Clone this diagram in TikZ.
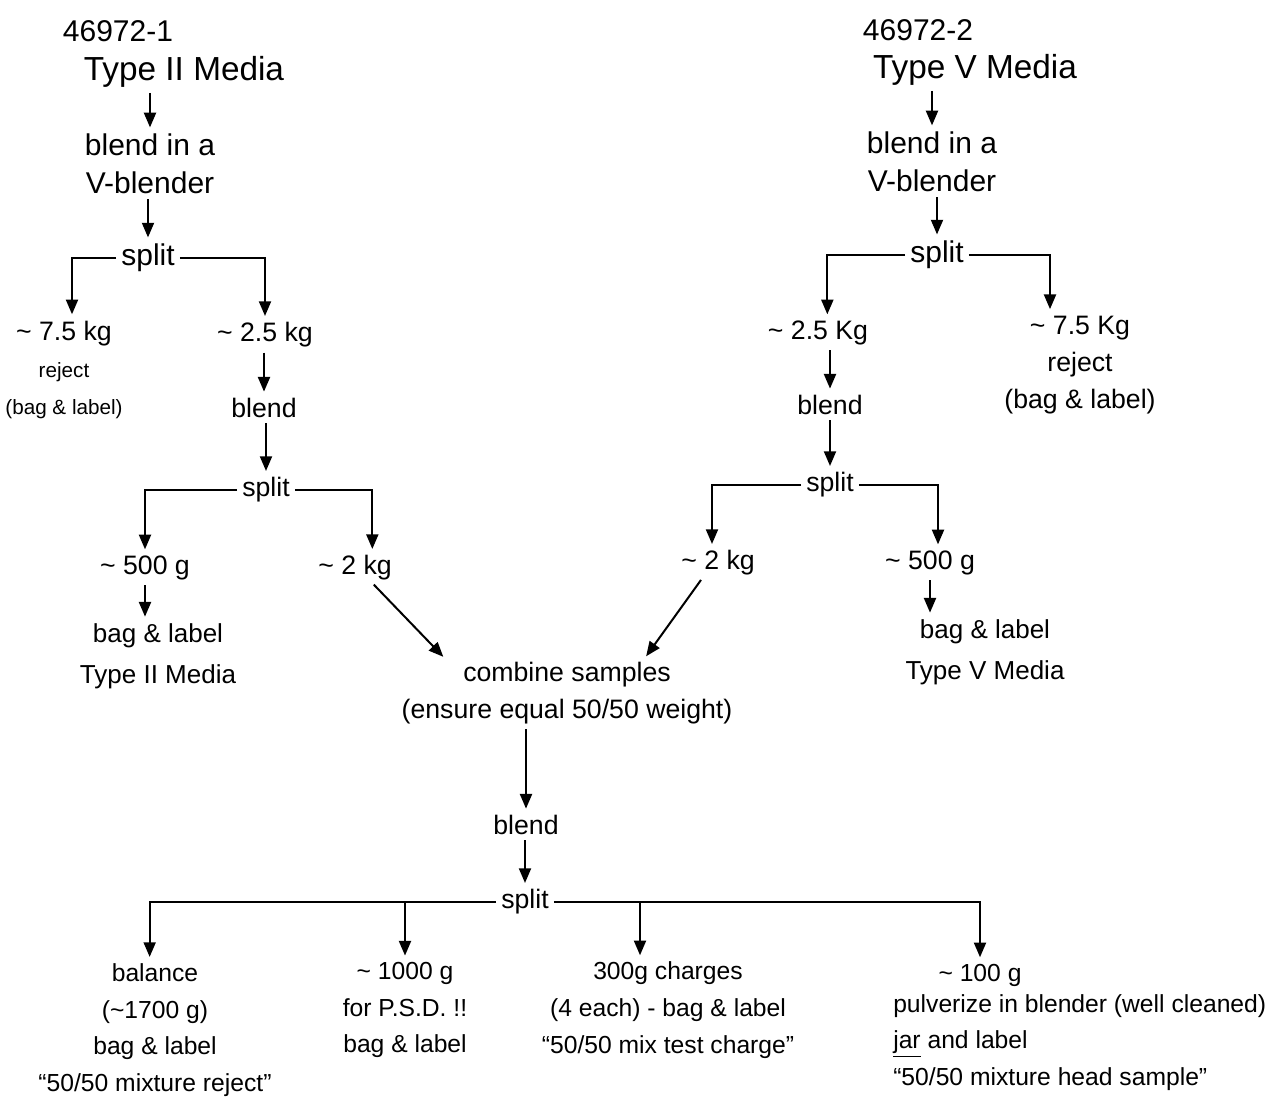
\documentclass[tikz,border=0pt]{standalone}
\usepackage{fontspec}
\setmainfont{Liberation Sans}
\usepackage{tikz}
\usetikzlibrary{arrows.meta}

\newcommand{\tld}{\textasciitilde}
\newcommand{\tinyline}[1]{{\fontsize{15.5}{26}\selectfont #1}}

\begin{document}
\begin{tikzpicture}[x=0.75pt,y=0.75pt,yscale=-1,xscale=1,
    txt/.style={inner sep=0.75pt, align=center, font=\fontsize{20}{28}\selectfont},
    big/.style={txt, font=\fontsize{22.5}{28.5}\selectfont},
    head/.style={txt, font=\fontsize{25}{28.5}\selectfont},
    small/.style={txt, font=\fontsize{18.5}{27.5}\selectfont},
    bagtxt/.style={txt, font=\fontsize{19.5}{31}\selectfont},
    flow/.style={-{Triangle[length=11pt,width=9pt]}, line width=1.5pt, shorten >=4pt, shorten <=3pt},
    tee/.style={flow, shorten <=0pt}]
    \useasboundingbox (0,0) rectangle (1280,1111);

    % left feed
    \node[big] (idA) at (118,31) {46972-1};
    \node[head] (typeA) at (184,72) {Type II Media};
    \node[big] (blendA) at (150,164) {blend in a\\V-blender};
    \node[big] (splitA) at (148,258) {split};
    \node[txt] (rejA) at (64,370) {\tld\ 7.5 kg\\\tinyline{reject}\\\tinyline{(bag \& label)}};
    \node[txt] (kgA) at (265,335) {\tld\ 2.5 kg};
    \node[txt] (blendA2) at (264,408) {blend};
    \node[txt] (splitA2) at (266,490) {split};
    \node[txt] (gA) at (145,568) {\tld\ 500 g};
    \node[txt] (kg2A) at (355,568) {\tld\ 2 kg};
    \node[bagtxt] (bagA) at (158,656) {bag \& label\\Type II Media};

    \draw[flow] (typeA.south -| blendA.north) -- (blendA.north);
    \draw[flow] (blendA.south -| splitA.north) -- (splitA.north);
    \draw[flow] (splitA.west) -| ([xshift=6pt]rejA.north);
    \draw[flow] (splitA.east) -| (kgA.north);
    \draw[flow] (kgA.south -| blendA2.north) -- (blendA2.north);
    \draw[flow] (blendA2.south -| splitA2.north) -- (splitA2.north);
    \draw[flow] (splitA2.west) -| (gA.north);
    \draw[flow] (splitA2.east) -| ([xshift=13pt]kg2A.north);
    \draw[flow] (gA.south) -- (gA.south |- bagA.north);

    % right feed
    \node[big] (idB) at (918,30) {46972-2};
    \node[head] (typeB) at (975,70) {Type V Media};
    \node[big] (blendB) at (932,162) {blend in a\\V-blender};
    \node[big] (splitB) at (937,255) {split};
    \node[txt] (kgB) at (818,333) {\tld\ 2.5 Kg};
    \node[txt] (rejB) at (1080,365) {\tld\ 7.5 Kg\\reject\\(bag \& label)};
    \node[txt] (blendB2) at (830,405) {blend};
    \node[txt] (splitB2) at (830,485) {split};
    \node[txt] (kg2B) at (718,563) {\tld\ 2 kg};
    \node[txt] (gB) at (930,563) {\tld\ 500 g};
    \node[bagtxt] (bagB) at (985,652) {bag \& label\\Type V Media};

    \draw[flow] (typeB.south -| blendB.north) -- (blendB.north);
    \draw[flow] (blendB.south -| splitB.north) -- (splitB.north);
    \draw[flow] (splitB.west) -| ([xshift=7pt]kgB.north);
    \draw[flow] (splitB.east) -| ([xshift=-22.5pt]rejB.north);
    \draw[flow] (kgB.south -| blendB2.north) -- (blendB2.north);
    \draw[flow] (blendB2.south -| splitB2.north) -- (splitB2.north);
    \draw[flow] (splitB2.west) -| ([xshift=-4.5pt]kg2B.north);
    \draw[flow] (splitB2.east) -| ([xshift=6pt]gB.north);
    \draw[flow] (gB.south) -- (gB.south |- bagB.north);

    % mixture
    \node[txt] (combine) at (567,693) {combine samples\\(ensure equal 50/50 weight)};
    \node[txt] (blendC) at (526,825) {blend};
    \node[txt] (splitC) at (525,902) {split};
    \node[small] (balC) at (155,1030) {balance\\(\tld 1700 g)\\bag \& label\\``50/50 mixture reject''};
    \node[small] (psdC) at (405,1010) {\tld\ 1000 g\\for P.S.D.\ !!\\bag \& label};
    \node[small] (chgC) at (668,1010) {300g charges\\(4 each) - bag \& label\\``50/50 mix test charge''};
    \node[small] (gC) at (980,975) {\tld\ 100 g};
    \node[small, anchor=north west, align=left] (pulC) at (892,993) {pulverize in blender (well cleaned)\\\underline{jar} and label\\``50/50 mixture head sample''};

    \draw[flow] ([xshift=12pt]kg2A.south) -- ([xshift=-90pt]combine.north);
    \draw[flow] ([xshift=-11pt]kg2B.south) -- ([xshift=57pt]combine.north);
    \draw[flow] (combine.south -| blendC.north) -- (blendC.north);
    \draw[flow] (blendC.south -| splitC.north) -- (splitC.north);
    \draw[flow] (splitC.west) -| ([xshift=-4pt]balC.north);
    \draw[flow] (splitC.east) -| (gC.north);
    \draw[tee] (psdC.north |- splitC.west) -- (psdC.north);
    \draw[tee] ([xshift=-21pt]chgC.north |- splitC.east) -- ([xshift=-21pt]chgC.north);
\end{tikzpicture}
\end{document}
